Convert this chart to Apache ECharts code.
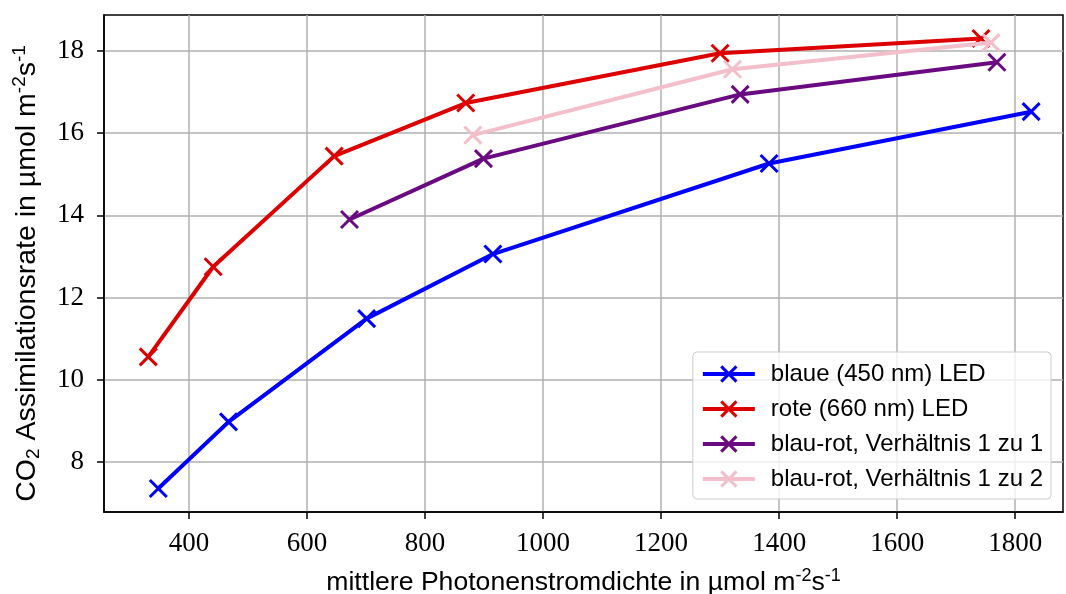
<!DOCTYPE html>
<html>
<head>
<meta charset="utf-8">
<script src="https://cdn.jsdelivr.net/npm/echarts@6/dist/echarts.min.js"></script>
<style>
  html, body { margin: 0; padding: 0; background: #fff; }
  #chart { width: 1066px; height: 594px; }
</style>
</head>
<body>
<div id="chart"></div>
<script>
// ---- data ----
const seriesNames = [
  'blaue (450 nm) LED',
  'rote (660 nm) LED',
  'blau-rot, Verhältnis 1 zu 1',
  'blau-rot, Verhältnis 1 zu 2'
];
const blueX = [348, 467, 701, 915, 1383, 1827];
const blueY = [7.36, 8.98, 11.49, 13.06, 15.26, 16.52];
const redX = [331, 441, 646, 869, 1300, 1742];
const redY = [10.56, 12.75, 15.44, 16.73, 17.94, 18.30];
const purpleX = [672, 899, 1334, 1769];
const purpleY = [13.90, 15.38, 16.94, 17.72];
const pinkX = [881, 1321, 1759];
const pinkY = [15.95, 17.55, 18.20];
const xTicks = [400, 600, 800, 1000, 1200, 1400, 1600, 1800];
const yTicks = [8, 10, 12, 14, 16, 18];

const colors = ['#0000ff', '#dc0000', '#6a0a80', '#f2bfca'];
const xs = [blueX, redX, purpleX, pinkX];
const ys = [blueY, redY, purpleY, pinkY];

const crossPath = 'path://M0,0L10,10M10,0L0,10';
const sansFont = 'Liberation Sans';
const serifFont = 'Liberation Serif';

function richFor(size) {
  const s = Math.round(size * 0.66);
  return {
    n: { fontFamily: sansFont, fontSize: size, color: '#000', lineHeight: size + 4 },
    sup: { fontFamily: sansFont, fontSize: s, color: '#000', lineHeight: s, verticalAlign: 'top' },
    sub: { fontFamily: sansFont, fontSize: s, color: '#000', lineHeight: s, verticalAlign: 'bottom' }
  };
}

const series = seriesNames.map((name, k) => ({
  name: name,
  type: 'line',
  data: xs[k].map((x, i) => [x, ys[k][i]]),
  symbol: crossPath,
  symbolSize: 17,
  showAllSymbol: true,
  lineStyle: { color: colors[k], width: 4 },
  itemStyle: { color: colors[k], borderColor: colors[k], borderWidth: 3 },
  emphasis: { disabled: true },
  z: 3 + k
}));

const chart = echarts.init(document.getElementById('chart'), null, { renderer: 'canvas' });
chart.setOption({
  animation: false,
  backgroundColor: '#fff',
  grid: {
    left: 104, top: 15, right: 3, bottom: 82,
    containLabel: false,
    outerBoundsMode: 'none',
    show: true, borderColor: '#000', borderWidth: 1.5, backgroundColor: 'transparent'
  },
  xAxis: {
    type: 'value',
    min: 256, max: 1881,
    name: '{n|mittlere Photonenstromdichte in µmol m}{sup|-2}{n|s}{sup|-1}',
    nameLocation: 'middle',
    nameGap: 55,
    nameTextStyle: { rich: richFor(26.6) },
    axisLine: { show: true, onZero: false, lineStyle: { color: '#000', width: 1.5 } },
    axisTick: { show: true, inside: false, length: 7, customValues: xTicks, lineStyle: { color: '#000', width: 1.5 } },
    axisLabel: { customValues: xTicks, formatter: v => String(v), fontFamily: serifFont, fontSize: 27, color: '#000', margin: 18 },
    splitLine: { show: true, lineStyle: { color: '#b0b0b0', width: 1.5 } }
  },
  yAxis: {
    type: 'value',
    min: 6.79, max: 18.87,
    name: '{n|CO}{sub|2}{n| Assimilationsrate in µmol m}{sup|-2}{n|s}{sup|-1}',
    nameLocation: 'middle',
    nameRotate: 90,
    nameGap: 61,
    nameTextStyle: { rich: richFor(28.5), padding: [0, 20, 0, 0] },
    axisLine: { show: true, onZero: false, lineStyle: { color: '#000', width: 1.5 } },
    axisTick: { show: true, inside: false, length: 7, customValues: yTicks, lineStyle: { color: '#000', width: 1.5 } },
    axisLabel: { customValues: yTicks, formatter: v => String(v), fontFamily: serifFont, fontSize: 27, color: '#000', margin: 20 },
    splitLine: { show: true, lineStyle: { color: '#b0b0b0', width: 1.5 } }
  },
  legend: {
    show: true,
    orient: 'vertical',
    right: 15,
    bottom: 95,
    selectedMode: false,
    data: seriesNames,
    itemWidth: 52,
    itemHeight: 19,
    itemGap: 11,
    padding: [10, 8, 8, 8],
    backgroundColor: 'rgba(255,255,255,0.8)',
    borderColor: '#cccccc',
    borderWidth: 1,
    borderRadius: 4,
    lineStyle: { width: 4 },
    itemStyle: { borderWidth: 3 },
    textStyle: { fontFamily: sansFont, fontSize: 24, lineHeight: 22, color: '#000', padding: [0, 0, 0, 11] }
  },
  series: series
});
</script>
</body>
</html>
